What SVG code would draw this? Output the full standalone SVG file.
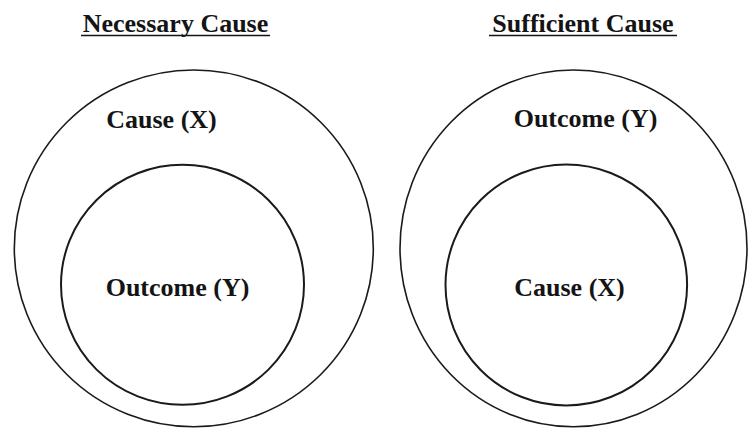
<svg xmlns="http://www.w3.org/2000/svg" width="748" height="429" viewBox="0 0 748 429">
<style>
.c{fill:none;stroke:#1a1a1a}
.o{stroke-width:1.6}
.i{stroke-width:2}
.t{font-family:"Liberation Serif","Times New Roman",serif;font-weight:bold;font-size:26px;fill:#141414;text-anchor:middle}
.u{stroke:#141414;stroke-width:1.6}
</style>
<rect width="748" height="429" fill="#fff"/>
<g id="necessary">
  <text class="t" x="175.5" y="32">Necessary Cause</text>
  <line class="u" x1="81" y1="35.5" x2="270" y2="35.5"/>
</g>
<g id="sufficient">
  <text class="t" x="583" y="32">Sufficient Cause</text>
  <line class="u" x1="489" y1="35.5" x2="677" y2="35.5"/>
</g>
<g id="left-outer">
  <ellipse class="c o" cx="193.8" cy="248.4" rx="179.5" ry="178.4"/>
  <text class="t" x="161.5" y="128">Cause (X)</text>
</g>
<g id="left-inner">
  <ellipse class="c i" cx="182.5" cy="284.8" rx="121.5" ry="120"/>
  <text class="t" x="177.5" y="296">Outcome (Y)</text>
</g>
<g id="right-outer">
  <ellipse class="c o" cx="573.5" cy="248.4" rx="173.5" ry="178.4"/>
  <text class="t" x="585.5" y="127">Outcome (Y)</text>
</g>
<g id="right-inner">
  <ellipse class="c i" cx="566.3" cy="285" rx="120.8" ry="120.5"/>
  <text class="t" x="569.5" y="296">Cause (X)</text>
</g>
<g id="connectors"></g>
</svg>
